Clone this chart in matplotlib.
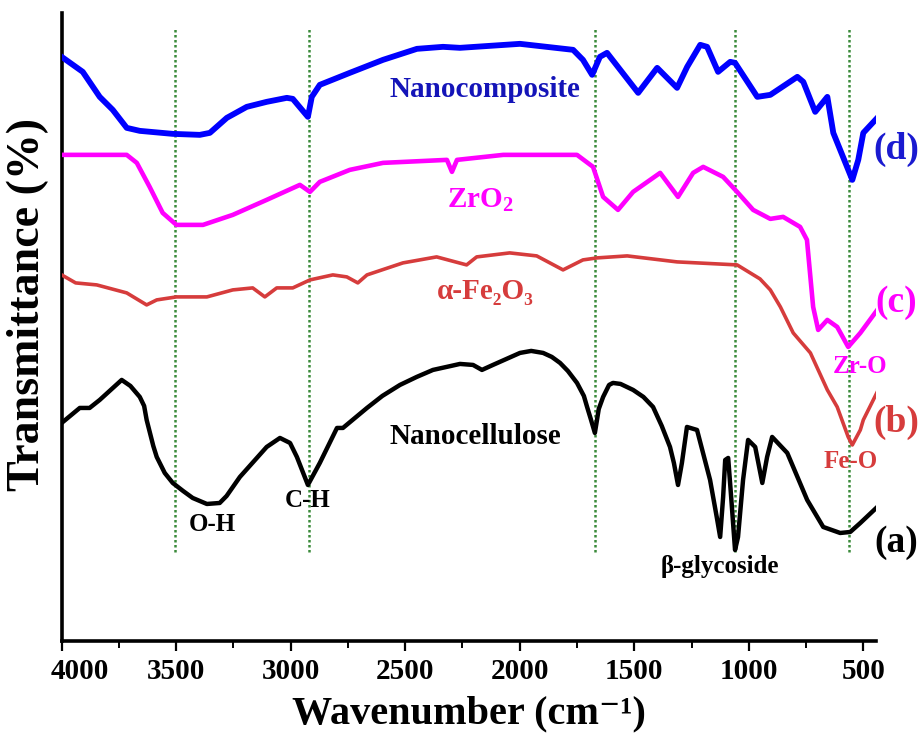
import matplotlib
matplotlib.use("Agg")
import matplotlib.pyplot as plt
from matplotlib.ticker import MultipleLocator
from matplotlib.transforms import ScaledTranslation

plt.rcParams["font.family"] = ["Liberation Serif", "DejaVu Serif"]
plt.rcParams["font.weight"] = "bold"
plt.rcParams["axes.labelweight"] = "bold"
plt.rcParams["mathtext.fontset"] = "custom"
plt.rcParams["mathtext.rm"] = "Liberation Serif:bold"
plt.rcParams["mathtext.bf"] = "Liberation Serif:bold"
plt.rcParams["mathtext.it"] = "Liberation Serif:bold:italic"

# (a) Nanocellulose
wn_a = [4000, 3921, 3878, 3834, 3738, 3700, 3659, 3640, 3629, 3600, 3585, 3550,
        3515, 3470, 3428, 3366, 3310, 3280, 3222, 3105, 3047, 3003, 2973, 2925,
        2873, 2798, 2772, 2667, 2600, 2523, 2450, 2379, 2300, 2261, 2204, 2165,
        2117, 1999, 1950, 1898, 1860, 1824, 1790, 1750, 1720, 1706, 1690, 1672,
        1655, 1636, 1610, 1593, 1560, 1505, 1460, 1418, 1380, 1344, 1327, 1309,
        1292, 1270, 1226, 1169, 1140, 1125, 1112, 1103, 1090, 1077, 1060, 1047,
        1025, 1003, 972, 941, 920, 898, 832, 745, 675, 601, 557, 513, 439]
t_a = [218, 233, 233, 241, 261, 255, 244, 235, 221, 195, 184, 168,
       158, 150, 143, 137, 138, 145, 164, 194, 203, 198, 184, 156,
       178, 213, 213, 233, 245, 256, 264, 271, 275, 277, 276, 271,
       276, 288, 290, 288, 284, 278, 270, 258, 245, 234, 222, 208,
       232, 244, 256, 258, 257, 251, 244, 234, 215, 194, 178, 156,
       178, 214, 211, 161, 124, 104, 144, 181, 183, 144, 91, 104,
       161, 201, 194, 158, 184, 204, 188, 141, 114, 108, 109, 118, 134]

# (b) alpha-Fe2O3
wn_b = [4000, 3939, 3847, 3716, 3629, 3585, 3499, 3366, 3253, 3166, 3113, 3061,
        2991, 2916, 2816, 2755, 2707, 2667, 2510, 2363, 2232, 2188, 2044, 1926,
        1811, 1724, 1662, 1531, 1313, 1051, 951, 906, 862, 806, 731, 657, 614,
        566, 548, 513, 500, 439]
t_b = [366, 358, 356, 348, 336, 341, 344, 344, 351, 353, 344, 353,
       353, 361, 366, 364, 358, 366, 378, 384, 376, 384, 388, 385,
       371, 381, 383, 385, 379, 376, 362, 351, 334, 308, 288, 251, 234,
       204, 196, 211, 221, 249]

# (c) ZrO2
wn_c = [4000, 3716, 3672, 3616, 3559, 3499, 3383, 3253, 3105, 2960, 2916, 2873,
        2742, 2597, 2318, 2296, 2274, 2072, 1750, 1680, 1636, 1571, 1505, 1387,
        1309, 1243, 1199, 1112, 1051, 981, 906, 850, 776, 746, 719, 697, 657,
        614, 566, 513, 439]
t_c = [486, 486, 478, 454, 428, 416, 416, 426, 441, 456, 449, 459,
       471, 478, 481, 469, 481, 486, 486, 474, 444, 431, 449, 468,
       444, 468, 474, 464, 449, 431, 422, 424, 414, 401, 334, 311, 321,
       314, 294, 308, 331]

# (d) Nanocomposite
wn_d = [4000, 3908, 3834, 3777, 3716, 3659, 3515, 3397, 3353, 3279, 3192, 3105,
        3017, 2991, 2925, 2908, 2873, 2742, 2597, 2449, 2335, 2261, 1999, 1767,
        1724, 1684, 1650, 1619, 1483, 1400, 1313, 1269, 1212, 1182, 1134, 1081,
        1060, 963, 906, 788, 762, 710, 657, 631, 548, 522, 500, 439]
t_d = [584, 569, 544, 531, 513, 510, 507, 506, 508, 523, 534, 539,
       543, 542, 524, 544, 556, 568, 581, 592, 594, 593, 597, 591,
       581, 566, 584, 588, 548, 573, 553, 574, 596, 594, 569, 579,
       578, 544, 546, 564, 559, 529, 544, 508, 461, 481, 508, 523]

band_positions = [3506, 2921, 1672, 1060, 561]

fig = plt.figure(figsize=(9.22, 7.33), dpi=100)
ax = fig.add_axes([0.0669, 0.1255, 0.8831, 0.857])

ax.vlines(band_positions, 89, 612, colors="#3a8a3a", linestyles=(0, (1, 1)),
          linewidth=1.8, zorder=1)

ax.plot(wn_a, t_a, color="black", lw=3.2, zorder=3)
ax.plot(wn_b, t_b, color="#d63c3c", lw=2.6, zorder=3)
ax.plot(wn_c, t_c, color="#ff00ff", lw=3.3, zorder=3)
ax.plot(wn_d, t_d, color="#0000ff", lw=4.2, zorder=3)

ax.set_xlim(4000, 445)
ax.set_ylim(0, 628)

# curve and band labels
ax.text(2152, 551, "Nanocomposite", color="#1414b8", fontsize=21, ha="center", va="center")
ax.text(2173, 440, "ZrO$_2$", color="#ff00ff", fontsize=21, ha="center", va="center")
ax.text(2152, 349, "α-Fe₂O₃", color="#d63c3c", fontsize=21, ha="center", va="center")
ax.text(2195, 204, "Nanocellulose", color="black", fontsize=21, ha="center", va="center")
ax.text(3344, 116, "O-H", fontsize=18, ha="center", va="center")
ax.text(2924, 140, "C-H", fontsize=18, ha="center", va="center")
ax.text(1125, 74, "β-glycoside", fontsize=18, ha="center", va="center")
ax.text(514, 274, "Zr-O", color="#ff00ff", fontsize=18, ha="center", va="center")
ax.text(557, 179, "Fe-O", color="#d63c3c", fontsize=18, ha="center", va="center")
ax.text(357, 491, "(d)", color="#1a1ad0", fontsize=27, ha="center", va="center")
ax.text(357, 338, "(c)", color="#ff00ff", fontsize=27, ha="center", va="center")
ax.text(357, 219, "(b)", color="#d63c3c", fontsize=27, ha="center", va="center")
ax.text(357, 98, "(a)", color="black", fontsize=27, ha="center", va="center")

ax.spines["top"].set_visible(False)
ax.spines["right"].set_visible(False)
ax.spines["left"].set_linewidth(2.6)
ax.spines["bottom"].set_linewidth(2.6)

ax.xaxis.set_major_locator(MultipleLocator(500))
ax.xaxis.set_minor_locator(MultipleLocator(250))
ax.tick_params(axis="x", which="major", length=7, width=1.6, labelsize=21, pad=5)
ax.tick_params(axis="x", which="minor", length=5, width=1.4)
ax.set_yticks([])

# the 4000 label sits a bit to the right of its tick
fig.canvas.draw()
for tick in ax.xaxis.get_major_ticks():
    if abs(tick.get_loc() - 4000) < 1:
        tick.label1.set_transform(tick.label1.get_transform()
                                  + ScaledTranslation(0.18, 0, fig.dpi_scale_trans))

ax.set_xlabel("Wavenumber (cm⁻¹)", fontsize=29, fontweight="bold", labelpad=8)
ax.set_ylabel("Transmittance (%)", fontsize=33, fontweight="bold")
ax.yaxis.set_label_coords(-0.015, 0.535)

fig.savefig("out.png", dpi=100)
